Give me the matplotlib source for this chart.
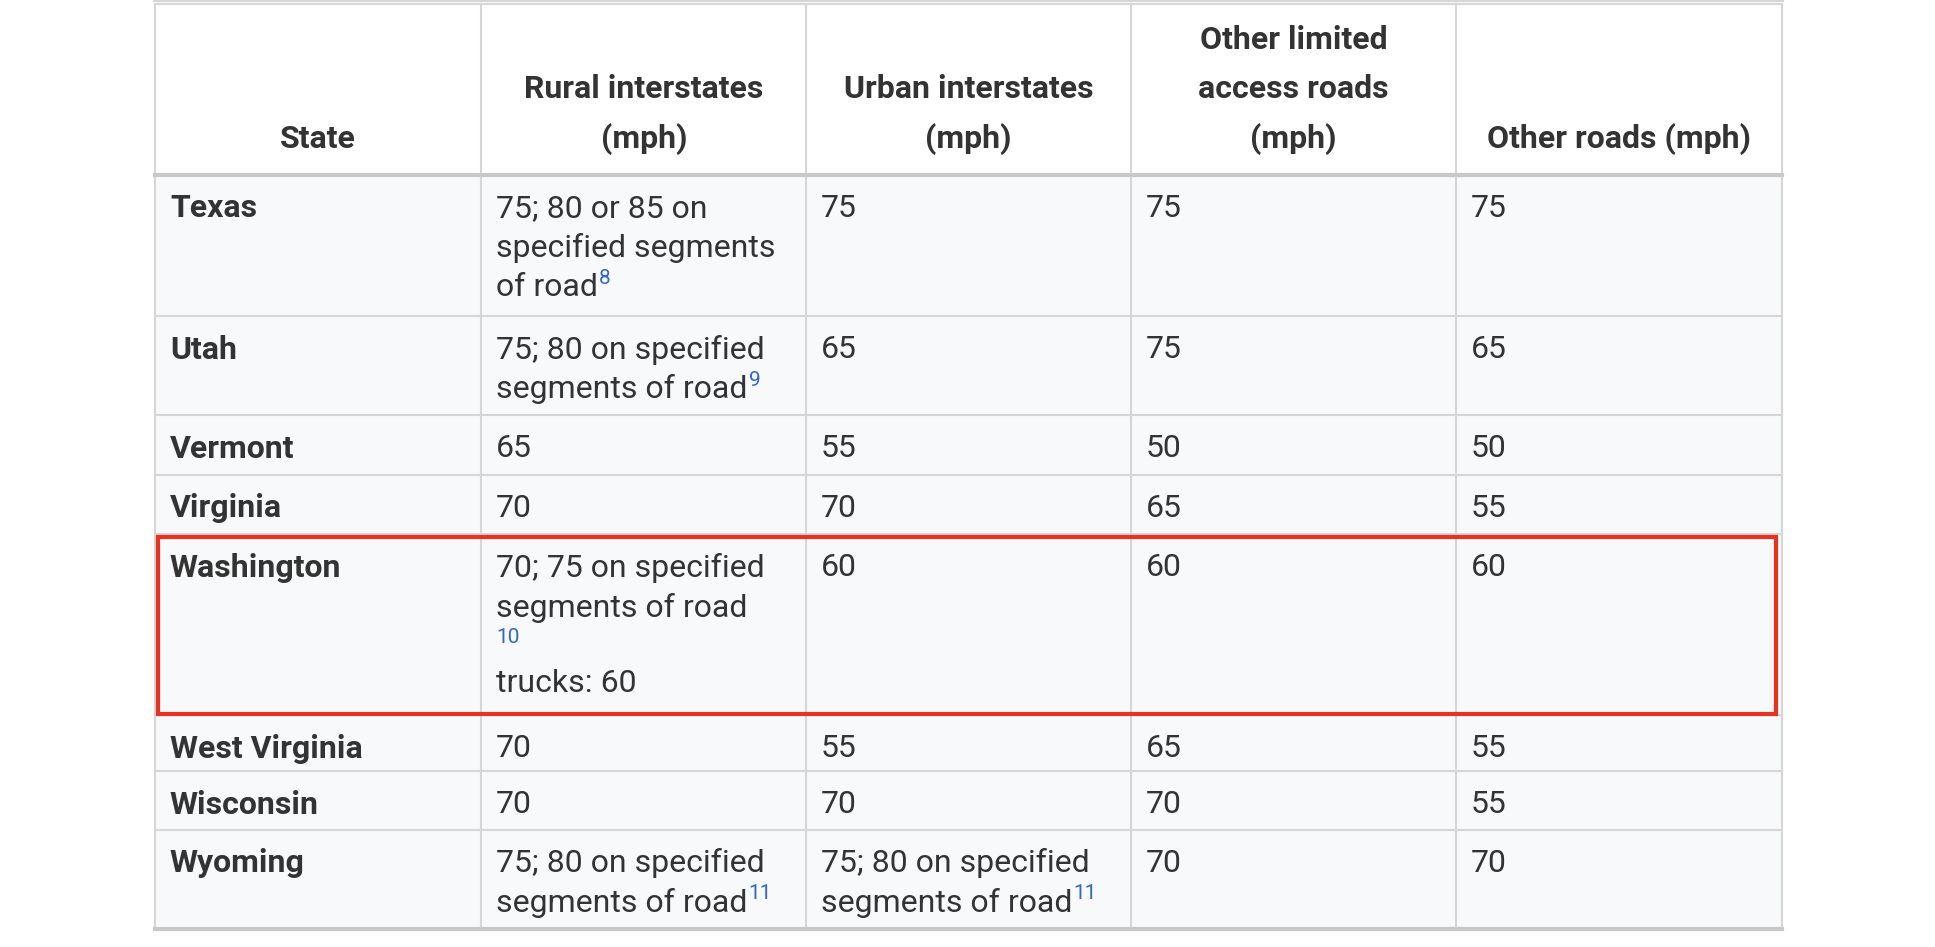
import matplotlib
matplotlib.use("Agg")
import matplotlib.pyplot as plt
from matplotlib.patches import Rectangle

headers = ["State", "Rural interstates\n(mph)", "Urban interstates\n(mph)",
           "Other limited\naccess roads\n(mph)", "Other roads (mph)"]
states = ["Texas", "Utah", "Vermont", "Virginia", "Washington", "West Virginia", "Wisconsin", "Wyoming"]
rural = [["75; 80 or 85 on", "specified segments", "of road"],
         ["75; 80 on specified", "segments of road"],
         ["65"], ["70"],
         ["70; 75 on specified", "segments of road", "", "trucks: 60"],
         ["70"], ["70"],
         ["75; 80 on specified", "segments of road"]]
rural_notes = ["8", "9", "", "", "10", "", "", "11"]
urban = [["75"], ["65"], ["55"], ["70"], ["60"], ["55"], ["70"],
         ["75; 80 on specified", "segments of road"]]
urban_notes = ["", "", "", "", "", "", "", "11"]
other_limited = ["75", "75", "50", "65", "60", "65", "70", "70"]
other_roads = ["75", "65", "50", "55", "60", "55", "55", "70"]
highlight = "Washington"

fig = plt.figure(figsize=(19.35, 9.47), dpi=100)
ax = fig.add_axes([0, 0, 1, 1])
ax.set_xlim(0, 1560); ax.set_ylim(763.7, 0); ax.axis("off")

FONT = "Roboto"
FS = 23
TXT = "#333333"
BLUE = "#3366cc"
GRID = "#d6d6d6"
cols = [125, 388, 650, 912, 1174, 1437]
rows = [141, 255, 335, 383, 431, 577, 622, 669, 749]
LH = 32

for i in range(len(states)):
    ax.add_patch(Rectangle((cols[0], rows[i]), cols[-1] - cols[0], rows[i + 1] - rows[i],
                           facecolor="#f8f9fa", edgecolor="none", zorder=0))
for x in cols:
    ax.plot([x, x], [3, 749], color=GRID, lw=1.5, zorder=1)
for y in rows[1:-1]:
    ax.plot([cols[0], cols[-1]], [y, y], color=GRID, lw=1.5, zorder=1)
for y in [141, 749]:
    ax.plot([cols[0], cols[-1]], [y, y], color="#c8c8c8", lw=3, zorder=1)
ax.plot([cols[0], cols[-1]], [3, 3], color=GRID, lw=1.5, zorder=1)
ax.plot([cols[0], cols[-1]], [0, 0], color=GRID, lw=3, zorder=1)

for j, h in enumerate(headers):
    lines = h.split("\n")
    cx = (cols[j] + cols[j + 1]) / 2
    for k, ln in enumerate(lines):
        y = 112 - (len(lines) - 1 - k) * 40
        ax.text(cx, y, ln, ha="center", va="center", fontsize=FS, fontweight="bold",
                family=FONT, color=TXT)

fig.canvas.draw()
rend = fig.canvas.get_renderer()
inv = ax.transData.inverted()

def note(t, n):
    bb = t.get_window_extent(rend)
    x1, ytop = inv.transform((bb.x1, bb.y1))
    ax.text(x1 + 1, ytop - 3, n, ha="left", va="top", fontsize=15, family=FONT, color=BLUE)

def cell(j, i, lines, n=""):
    x = cols[j] + 12
    y0 = rows[i] + 27
    extra = 0
    for k, ln in enumerate(lines):
        if ln == "":
            if n:
                ax.text(x, y0 + k * LH - 8, n, ha="left", va="center", fontsize=15,
                        family=FONT, color=BLUE)
                n = ""
            extra = -3
            continue
        yy = y0 + k * LH + extra
        t = ax.text(x, yy, ln, ha="left", va="center", fontsize=FS, family=FONT, color=TXT)
        if n and k == len(lines) - 1:
            fig.canvas.draw()
            note(t, n)
            n = ""

for i, s in enumerate(states):
    ax.text(cols[0] + 12, rows[i] + 27, s, ha="left", va="center", fontsize=FS,
            fontweight="bold", family=FONT, color=TXT)
    cell(1, i, rural[i], rural_notes[i])
    cell(2, i, urban[i], urban_notes[i])
    cell(3, i, [other_limited[i]])
    cell(4, i, [other_roads[i]])
    if s == highlight:
        ax.add_patch(Rectangle((127, rows[i] + 2), 1305, rows[i + 1] - rows[i] - 3,
                               fill=False, edgecolor="#e8321f", lw=3, zorder=5))

fig.savefig("out.png", dpi=100)
